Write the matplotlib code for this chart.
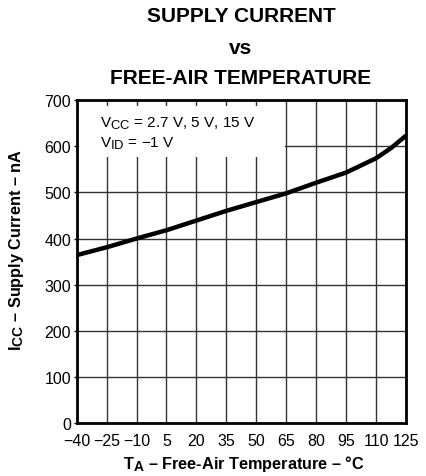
import matplotlib
matplotlib.use("Agg")
import matplotlib.pyplot as plt
import matplotlib._mathtext as _mt
from matplotlib.patches import Rectangle

plt.rcParams['font.family'] = ['Liberation Sans', 'DejaVu Sans']
plt.rcParams['mathtext.fontset'] = 'custom'
plt.rcParams['mathtext.rm'] = 'Liberation Sans'
plt.rcParams['mathtext.bf'] = 'Liberation Sans:bold'
plt.rcParams['mathtext.default'] = 'regular'
_mt.SHRINK_FACTOR = 0.85  # 添字を少し大きく

# 読み取ったデータ
temps = [-40, -25, -10, 5, 20, 35, 50, 65, 80, 95, 110, 117.5, 125]
icc_nA = [364, 381, 400, 418, 439, 460, 479, 498, 521, 543, 574, 596, 623]
x_ticks = [-40, -25, -10, 5, 20, 35, 50, 65, 80, 95, 110, 125]
y_ticks = [0, 100, 200, 300, 400, 500, 600, 700]

fig = plt.figure(figsize=(4.26, 4.77), dpi=100)
ax = fig.add_axes([0.180, 0.111, 0.773, 0.677])

ax.plot(temps, icc_nA, color='black', lw=3.2, solid_capstyle='butt', zorder=4)

ax.set_xlim(-40, 125)
ax.set_ylim(0, 700)
ax.set_xticks(x_ticks)
ax.set_yticks(y_ticks)
ax.grid(True, color='#333333', lw=1.0, zorder=1)
ax.set_axisbelow(True)
ax.tick_params(axis='y', length=2.5, width=1, labelsize=11.5, pad=1.5)
ax.tick_params(axis='x', length=0, labelsize=11.5, pad=7)
for s in ax.spines.values():
    s.set_linewidth(2.0)
    s.set_zorder(5)

# 条件テキストの白い背景
ax.add_patch(Rectangle((-40, 577), 104.5, 110, facecolor='white',
                       edgecolor='none', zorder=2))
ax.text(-28.5, 651, r'V$_{CC}$ = 2.7 V, 5 V, 15 V', fontsize=11,
        va='center', zorder=3)
ax.text(-28.5, 607, r'V$_{ID}$ = $-$1 V', fontsize=11, va='center', zorder=3)

# タイトル
for txt, yy in [('SUPPLY CURRENT', 17), ('vs', 48), ('FREE-AIR TEMPERATURE', 79)]:
    fig.text(241 / 426, 1 - yy / 477, txt, fontsize=15, fontweight='bold',
             ha='center', va='center')

fig.text(244 / 426, 1 - 464 / 477,
         r'$\mathbf{T_A}$ – Free-Air Temperature – °C',
         fontsize=11.7, fontweight='bold', ha='center', va='center')
fig.text(17 / 426, 1 - 250 / 477,
         r'$\mathbf{I_{CC}}$ – Supply Current – nA',
         fontsize=11.7, fontweight='bold', ha='center', va='center',
         rotation=90)

fig.savefig('out.png', dpi=100)
